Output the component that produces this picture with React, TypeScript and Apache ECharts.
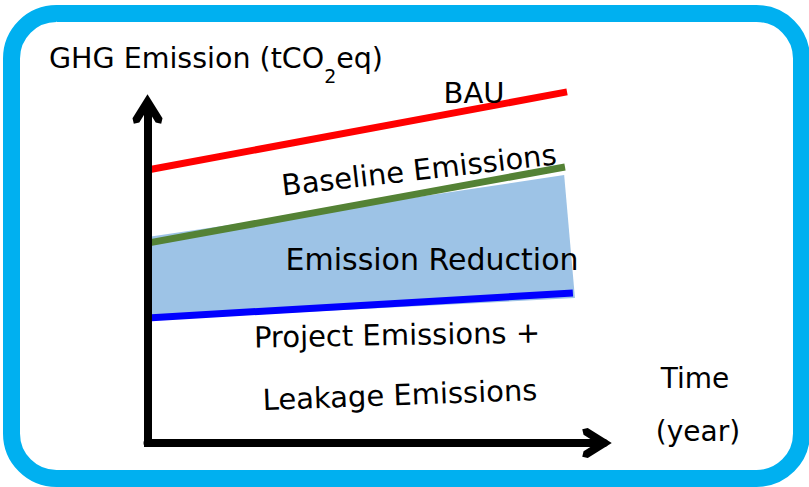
import React, { useEffect, useRef } from 'react';
import * as echarts from 'echarts';

// Conceptual GHG emission lines: [time (year), emission (tCO2eq)]
const bauLine: number[][] = [[0, 81.0], [10.11, 104.2]];
const baselineLine: number[][] = [[0, 59.3], [10.06, 81.9]];
const projectLine: number[][] = [[0, 37.1], [10.25, 44.5]];
const reductionArea: number[][] = [[0, 61.1], [10.04, 79.5], [10.3, 43.0], [0, 36.5]];

const xRange = [0, 11];
const yRange = [0, 100];

const labelBAU = 'BAU';
const labelBaseline = 'Baseline Emissions';
const labelReduction = 'Emission Reduction';
const labelProject = 'Project Emissions +';
const labelLeakage = 'Leakage Emissions';
const labelTime = 'Time';
const labelYear = '(year)';

const FONT = '"DejaVu Sans", "Noto Sans", sans-serif';
const CHEVRON = 'path://M15 0 L30 24 L28.7 29.5 L23.2 28.2 L15 15 L6.8 28.2 L1.3 29.5 L0 24 Z';

function txt(text: string, x: number, y: number, rotDeg = 0, size = 29) {
  return {
    type: 'text',
    x,
    y,
    rotation: (rotDeg * Math.PI) / 180,
    z: 10,
    style: {
      text,
      x: 0,
      y: 0,
      align: 'center',
      verticalAlign: 'middle',
      fill: '#000',
      fontSize: size,
      fontFamily: FONT,
    },
  };
}

export default function App() {
  const ref = useRef<HTMLDivElement>(null);
  useEffect(() => {
    if (!ref.current) return;
    const chart = echarts.init(ref.current, undefined, { renderer: 'svg' });
    const axisCommon = {
      type: 'value',
      z: 10,
      axisTick: { show: false },
      axisLabel: { show: false },
      splitLine: { show: false },
    };
    chart.setOption({
      animation: false,
      backgroundColor: '#ffffff',
      grid: { left: 147.5, right: 205, top: 106, bottom: 44 },
      xAxis: {
        ...axisCommon,
        min: xRange[0],
        max: xRange[1],
        axisLine: {
          show: true,
          onZero: false,
          symbol: ['none', CHEVRON],
          symbolSize: [30, 30],
          symbolOffset: [0, -7],
          lineStyle: { color: '#000', width: 8 },
        },
      },
      yAxis: {
        ...axisCommon,
        min: yRange[0],
        max: yRange[1],
        axisLine: {
          show: true,
          onZero: false,
          symbol: ['none', CHEVRON],
          symbolSize: [30, 30],
          symbolOffset: [0, -3],
          lineStyle: { color: '#000', width: 8, cap: 'square' },
        },
      },
      series: [
        {
          type: 'custom',
          z: 1,
          silent: true,
          data: [[0, 0]],
          renderItem: (_params: any, api: any) => ({
            type: 'polygon',
            shape: { points: reductionArea.map((p) => api.coord(p)) },
            style: { fill: '#9dc3e6' },
          }),
        },
        {
          type: 'line',
          z: 3,
          data: bauLine,
          symbol: 'none',
          clip: false,
          lineStyle: { color: '#ff0000', width: 7, cap: 'butt' },
        },
        {
          type: 'line',
          z: 3,
          data: baselineLine,
          symbol: 'none',
          clip: false,
          lineStyle: { color: '#548235', width: 7, cap: 'butt' },
        },
        {
          type: 'line',
          z: 3,
          data: projectLine,
          symbol: 'none',
          clip: false,
          lineStyle: { color: '#0000ff', width: 7, cap: 'butt' },
        },
      ],
      graphic: [
        {
          type: 'rect',
          z: 20,
          shape: { x: 11.5, y: 13.5, width: 790, height: 465, r: 45 },
          style: { fill: 'none', stroke: '#00b0f0', lineWidth: 17 },
        },
        {
          type: 'text',
          x: 49,
          y: 44,
          z: 10,
          style: {
            text: '{a|GHG Emission (tCO}{b|2}{a|eq)}',
            align: 'left',
            verticalAlign: 'top',
            rich: {
              a: { fontSize: 28.5, fontFamily: FONT, lineHeight: 31, verticalAlign: 'top', fill: '#000' },
              b: { fontSize: 19, fontFamily: FONT, lineHeight: 19, padding: [22, 0, 0, 0], verticalAlign: 'top', fill: '#000' },
            },
          },
        },
        txt(labelBAU, 474, 93),
        txt(labelBaseline, 419, 170, 6.5),
        txt(labelReduction, 432, 259, 0, 30),
        txt(labelProject, 397, 335, 1),
        txt(labelLeakage, 400, 395, 2.1),
        txt(labelTime, 695, 378, 0, 28),
        txt(labelYear, 698, 431, 0, 28),
      ],
    });
    return () => chart.dispose();
  }, []);
  return <div ref={ref} style={{ position: 'fixed', left: 0, top: 0, width: 809, height: 487 }} />;
}
